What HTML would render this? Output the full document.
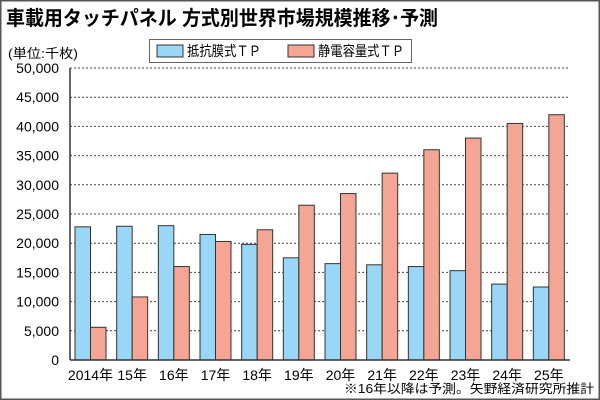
<!DOCTYPE html>
<html><head><meta charset="utf-8"><style>
body{margin:0;background:#fff}
svg{display:block;font-family:"Liberation Sans","Noto Sans CJK JP",sans-serif}
</style></head><body>
<svg width="600" height="400" viewBox="0 0 600 400">
<rect x="0.5" y="0.5" width="599" height="399" fill="#fff" stroke="#555" stroke-width="2"/>
<text x="6" y="25" font-size="20" font-weight="bold" fill="#000" textLength="432" lengthAdjust="spacingAndGlyphs">車載用タッチパネル 方式別世界市場規模推移･予測</text>
<text x="8" y="58" font-size="13" fill="#000" textLength="70" lengthAdjust="spacingAndGlyphs">(単位:千枚)</text>
<g>
<rect x="149.5" y="39.5" width="262" height="23" fill="#fff" stroke="#666"/>
<g><rect x="157" y="45" width="26" height="12" fill="#9ad6f5" stroke="#333"/><text x="187" y="56" font-size="14" textLength="74" lengthAdjust="spacingAndGlyphs">抵抗膜式ＴＰ</text></g>
<g><rect x="288" y="45" width="26" height="12" fill="#f5a593" stroke="#333"/><text x="318" y="56" font-size="14" textLength="86" lengthAdjust="spacingAndGlyphs">静電容量式ＴＰ</text></g>
</g>
<g id="grid"></g><g id="bars"></g><g id="axes"></g>
<text x="594" y="393" font-size="12.5" text-anchor="end" textLength="250" lengthAdjust="spacingAndGlyphs">※16年以降は予測。矢野経済研究所推計</text>
</svg>
<script>
const categories=["2014年","15年","16年","17年","18年","19年","20年","21年","22年","23年","24年","25年"];
const resistive=[22800,22900,23000,21500,19800,17500,16500,16300,16000,15300,13000,12500];
const capacitive=[5600,10800,16000,20300,22300,26500,28500,32000,36000,38000,40500,42000];
const yTicks=[0,5000,10000,15000,20000,25000,30000,35000,40000,45000,50000];
const NS="http://www.w3.org/2000/svg";
const x0=70,x1=570,y0=360,y1=68,yMax=50000;
const gw=(x1-x0)/categories.length;
const y=v=>y0-(v/yMax)*(y0-y1);
function mk(t,a,p){const e=document.createElementNS(NS,t);for(const k in a)e.setAttribute(k,a[k]);p.appendChild(e);return e;}
const grid=document.getElementById('grid'),bars=document.getElementById('bars'),axes=document.getElementById('axes');
yTicks.forEach(v=>{
 if(v>0){const l=mk('line',{x1:x0,x2:x1,y1:y(v),y2:y(v),stroke:'#444','stroke-dasharray':'2,2','stroke-width':1},grid);
 
 }
 const t=mk('text',{x:x0-11,y:y(v)+5,'font-size':14,'text-anchor':'end'},axes);
 t.textContent=v.toLocaleString('en-US');
 
 
});
categories.forEach((c,i)=>{
 const bx=x0+i*gw+5;
 const b1=mk('rect',{x:bx,y:y(resistive[i]),width:15.5,height:y0-y(resistive[i]),fill:'#9ad6f5',stroke:'#333','stroke-width':1},bars);
 
 
 const b2=mk('rect',{x:bx+15.5,y:y(capacitive[i]),width:15.5,height:y0-y(capacitive[i]),fill:'#f5a593',stroke:'#333','stroke-width':1},bars);
 
 
 const t=mk('text',{x:bx+15.5,y:380,'font-size':14,'text-anchor':'middle'},axes);
 t.textContent=c;
 
 
});
const ya=mk('line',{x1:x0,x2:x0,y1:y1,y2:y0,stroke:'#333','stroke-width':1.5},axes);


const xa=mk('line',{x1:x0,x2:x1,y1:y0,y2:y0,stroke:'#333','stroke-width':1.5},axes);


</script>
</body></html>
